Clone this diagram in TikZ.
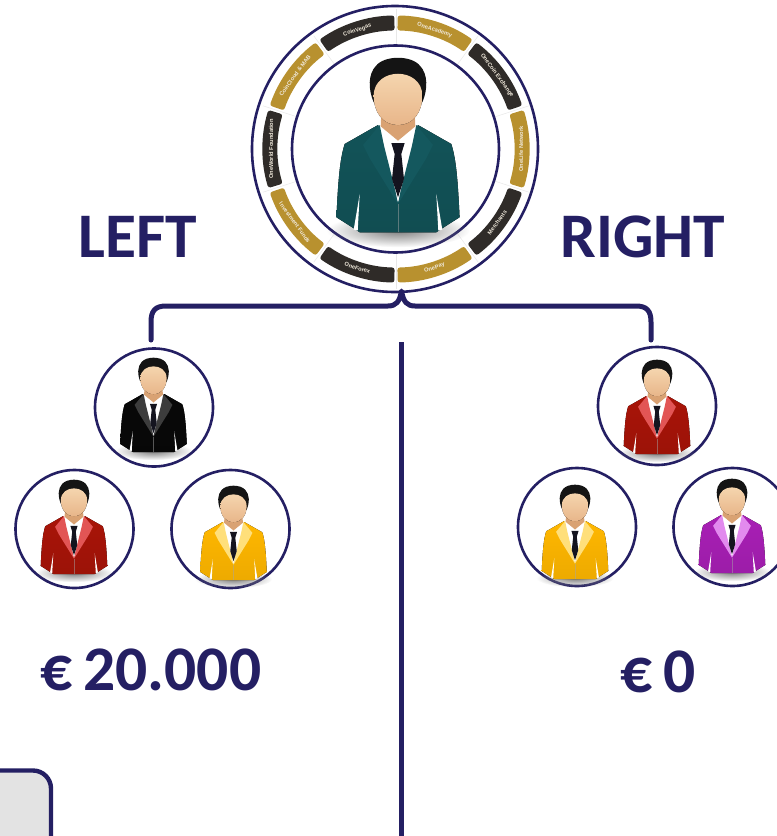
\documentclass[tikz,border=0pt]{standalone}
\usepackage{fontspec}
\setmainfont{Carlito}
\newfontfamily\ringfont{Liberation Sans}[BoldFont={Liberation Sans Bold}]
\usetikzlibrary{fadings}
\tikzfading[name=softspot,inner color=transparent!0,outer color=transparent!100]
\definecolor{navy}{HTML}{241F63}
\definecolor{ringgold}{HTML}{B8912F}
\definecolor{ringdark}{HTML}{2F2B28}
\definecolor{ringtext}{HTML}{EFE8DA}
\definecolor{spoke}{HTML}{E8E8E8}
\definecolor{panelgrey}{HTML}{E3E3E3}
\definecolor{suitteal}{HTML}{125358}
\definecolor{lapelteal}{HTML}{14585E}
\definecolor{suitblack}{HTML}{080808}
\definecolor{lapelblack}{HTML}{3C3C3C}
\definecolor{suitred}{HTML}{A81408}
\definecolor{lapelred}{HTML}{E25555}
\definecolor{suityel}{HTML}{FFB700}
\definecolor{lapelyel}{HTML}{FFDF7A}
\definecolor{suitpur}{HTML}{A81FB5}
\definecolor{lapelpur}{HTML}{E28AEE}
\definecolor{skintop}{HTML}{F5D5AE}
\definecolor{skinbot}{HTML}{E8B68A}
\definecolor{neckskin}{HTML}{D9A273}
\definecolor{tiecol}{HTML}{14141F}
\tikzset{
  ringcircle/.style={circle,draw=navy,line width=2.6pt,fill=white,inner sep=0pt,outer sep=0pt},
  smallcircle/.style={ringcircle,minimum size=118pt},
  bigtext/.style={text=navy,font=\fontsize{63.5}{64}\selectfont\bfseries,inner sep=0pt},
  moneytext/.style={text=navy,font=\fontsize{63.5}{64}\selectfont\bfseries,inner sep=0pt},
  bracketline/.style={draw=navy,line width=5pt,line cap=round,line join=round},
  axisline/.style={draw=navy,line width=4.2pt},
  ringlabel/.style={text=ringtext,inner sep=0pt,font=\ringfont\bfseries\fontsize{5.7}{6}\selectfont},
}
% x, y, scale, suit, lapel
\newcommand{\drawperson}[5]{%
\begin{scope}[shift={(#1,#2)},scale=#3]
  \fill[black!50,path fading=softspot] (0,245) ellipse (215 and 50);
  \fill[black!92] (-73,-140) .. controls (-90,-180) and (-90,-225) .. (-66,-250)
     .. controls (-40,-282) and (40,-282) .. (66,-250)
     .. controls (90,-225) and (90,-180) .. (73,-140) -- cycle;
  \fill[top color=#4,bottom color=#4!93!black] (-185,205) .. controls (-180,100) and (-175,30) .. (-160,-15)
     -- (-60,-72) -- (60,-72) -- (160,-15)
     .. controls (175,30) and (180,100) .. (185,205)
     -- (130,240) -- (115,250) -- (-115,250) -- (-130,240) -- cycle;
  \fill[white] (-133,242) -- (-115,135) -- (-121,245) -- cycle;
  \fill[white] (133,242) -- (115,135) -- (121,245) -- cycle;
  \draw[black!35,line width=.3pt,opacity=.5] (0,165) -- (0,250);
  \fill[white] (-58,-72) -- (58,-72) -- (50,60) -- (0,160) -- (-50,60) -- cycle;
  \fill[#5] (-55,-72) -- (-105,-12) -- (-85,28) -- (0,165) -- (-8,125) -- (-42,-10) -- cycle;
  \fill[#5] (55,-72) -- (105,-12) -- (85,28) -- (0,165) -- (8,125) -- (42,-10) -- cycle;
  \fill[tiecol] (-20,-18) -- (20,-18) -- (10,15) -- (18,90) -- (0,145) -- (-18,90) -- (-10,15) -- cycle;
  \fill[neckskin] (-50,-110) -- (50,-110) -- (52,-68) -- (0,-25) -- (-52,-68) -- cycle;
  \fill[top color=skintop,bottom color=skinbot]
     (0,-72) .. controls (-45,-72) and (-73,-110) .. (-73,-160)
     .. controls (-73,-205) and (-35,-226) .. (0,-226)
     .. controls (35,-226) and (73,-205) .. (73,-160)
     .. controls (73,-110) and (45,-72) .. (0,-72) -- cycle;
\end{scope}}
% start angle, end angle, fill, node name, text, text rotation, mid angle
\newcommand{\ringseg}[7]{%
  \fill[#3,rounded corners=2.5pt] (#1:118.5pt) arc[start angle=#1,end angle=#2,radius=118.5pt]
     -- (#2:133.5pt) arc[start angle=#2,end angle=#1,radius=133.5pt] -- cycle;
  \node[ringlabel,rotate=#6] (#4) at (#7:125pt) {#5};
}
\begin{document}
\begin{tikzpicture}[x=1pt,y=-1pt]
\useasboundingbox (0,0) rectangle (777,836);
% grey panel, cut by the picture edge
\begin{scope}
\clip (0,0) rectangle (777,836);
\draw[line width=4.4pt,draw=navy,fill=panelgrey,rounded corners=18pt] (-40,770.5) -- (51,770.5) -- (51,880) -- (-40,880) -- cycle;
\end{scope}
% central ring
\node[ringcircle,minimum size=286pt] (main) at (395,149) {};
\begin{scope}[shift={(396,149)},y=1pt]
  \foreach \a in {18,54,...,342} \draw[spoke,line width=.5pt] (\a:104pt) -- (\a:140pt);
  \foreach \a in {90,270} \draw[spoke,line width=.5pt] (\a:104pt) -- (\a:140pt);
  \ringseg{89.3}{55}{ringgold}{s1}{OneAcademy}{-18}{72}
  \ringseg{53}{19}{ringdark}{s2}{OneCoin Exchange}{-54}{36}
  \ringseg{-17}{17}{ringgold}{s3}{OneLife Network}{90}{0}
  \ringseg{-53}{-19}{ringdark}{s4}{Merchants}{54}{-36}
  \ringseg{-89.3}{-55}{ringgold}{s5}{OnePay}{18}{-72}
  \ringseg{-125}{-90.7}{ringdark}{s6}{OneForex}{-18}{-108}
  \ringseg{-161}{-127}{ringgold}{s7}{Investment Funds}{-54}{-144}
  \ringseg{163}{197}{ringdark}{s8}{OneWorld Foundation}{90}{180}
  \ringseg{127}{161}{ringgold}{s9}{CoinCloud \& MAB}{54}{144}
  \ringseg{90.7}{125}{ringdark}{s10}{CoinVegas}{18}{108}
\end{scope}
\node[ringcircle,minimum size=207pt] (inner) at (395.5,149) {};
\drawperson{398}{149}{.333}{suitteal}{lapelteal}
% small circles
\node[smallcircle] (ltop) at (154,407.5) {};
\node[smallcircle] (lred) at (74.5,529) {};
\node[smallcircle] (lyel) at (230.5,529) {};
\node[smallcircle] (rtop) at (657,406) {};
\node[smallcircle] (ryel) at (577,527) {};
\node[smallcircle] (rpur) at (732.5,527) {};
\drawperson{153.5}{407}{.18}{suitblack}{lapelblack}
\drawperson{74}{529}{.18}{suitred}{lapelred}
\drawperson{233.5}{535}{.18}{suityel}{lapelyel}
\drawperson{657}{409}{.18}{suitred}{lapelred}
\drawperson{575}{534}{.18}{suityel}{lapelyel}
\drawperson{732}{528}{.18}{suitpur}{lapelpur}
% connectors
\coordinate (bl) at (151,340);
\coordinate (br) at (651,340);
\coordinate (apex) at (401.5,291);
\coordinate (axis) at (401.5,342);
\coordinate (axisend) at (401.5,836);
\draw[bracketline] (bl) -- (151,322) .. controls (151,311) and (155,306) .. (166,306)
   -- (388,306) .. controls (396,306) and (399.5,302) .. (apex)
   .. controls (403.5,302) and (407,306) .. (415,306)
   -- (636,306) .. controls (647,306) and (651,311) .. (651,322) -- (br);
\draw[axisline] (axis) -- (axisend);
% labels
\node[bigtext] (left) at (138,237) {LEFT};
\node[bigtext] (right) at (643,237) {RIGHT};
\node[moneytext] (lmoney) at (151,670) {€\,20.000};
\node[moneytext] (rmoney) at (658,672) {€\,0};
\end{tikzpicture}
\end{document}
